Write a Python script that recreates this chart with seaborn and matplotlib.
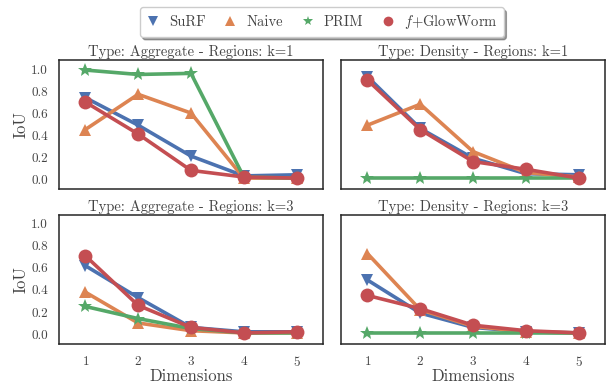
import numpy as np
import pandas as pd
import matplotlib
matplotlib.use("Agg")
import matplotlib.pyplot as plt
from matplotlib.lines import Line2D
import seaborn as sns

dims = [1, 2, 3, 4, 5]
methods = ["SuRF", "Naive", "PRIM", "$f$+GlowWorm"]
panels = ["Type: Aggregate - Regions: k=1", "Type: Density - Regions: k=1",
          "Type: Aggregate - Regions: k=3", "Type: Density - Regions: k=3"]

agg_k1_surf = [0.74, 0.49, 0.21, 0.03, 0.04]
agg_k1_naive = [0.45, 0.77, 0.60, 0.01, 0.01]
agg_k1_prim = [0.99, 0.95, 0.96, 0.02, 0.01]
agg_k1_gw = [0.70, 0.41, 0.08, 0.02, 0.01]

den_k1_surf = [0.93, 0.46, 0.19, 0.05, 0.04]
den_k1_naive = [0.49, 0.68, 0.25, 0.06, 0.02]
den_k1_prim = [0.01, 0.01, 0.01, 0.01, 0.01]
den_k1_gw = [0.90, 0.45, 0.16, 0.09, 0.01]

agg_k3_surf = [0.62, 0.33, 0.06, 0.02, 0.02]
agg_k3_naive = [0.38, 0.10, 0.03, 0.01, 0.01]
agg_k3_prim = [0.25, 0.14, 0.05, 0.01, 0.01]
agg_k3_gw = [0.71, 0.26, 0.06, 0.01, 0.02]

den_k3_surf = [0.49, 0.19, 0.06, 0.02, 0.01]
den_k3_naive = [0.73, 0.22, 0.07, 0.02, 0.01]
den_k3_prim = [0.01, 0.01, 0.01, 0.01, 0.01]
den_k3_gw = [0.35, 0.23, 0.08, 0.03, 0.01]

panel_data = [
    [agg_k1_surf, agg_k1_naive, agg_k1_prim, agg_k1_gw],
    [den_k1_surf, den_k1_naive, den_k1_prim, den_k1_gw],
    [agg_k3_surf, agg_k3_naive, agg_k3_prim, agg_k3_gw],
    [den_k3_surf, den_k3_naive, den_k3_prim, den_k3_gw],
]

sns.set_theme(style="white")
plt.rcParams["font.family"] = ["cmr10", "DejaVu Serif"]
plt.rcParams["mathtext.fontset"] = "cm"
plt.rcParams["axes.formatter.use_mathtext"] = True
plt.rcParams["axes.edgecolor"] = "#262626"
textc = "#444444"
plt.rcParams["text.color"] = textc
plt.rcParams["axes.labelcolor"] = textc
plt.rcParams["xtick.color"] = textc
plt.rcParams["ytick.color"] = textc

palette = sns.color_palette("deep", 4)
colors = dict(zip(methods, palette))
markers = dict(zip(methods, ["v", "^", "*", "o"]))
msizes = dict(zip(methods, [9, 9, 10, 10]))

fig, axes = plt.subplots(2, 2, figsize=(6.07, 3.83), dpi=100, sharex=True, sharey=True)
fig.subplots_adjust(left=0.097, right=0.997, top=0.843, bottom=0.102, wspace=0.068, hspace=0.2)

for i, ax in enumerate(axes.flat):
    rows = []
    for m, vals in zip(methods, panel_data[i]):
        for d, v in zip(dims, vals):
            rows.append({"Dimensions": d, "IoU": v, "Method": m})
    df = pd.DataFrame(rows)
    for m in methods:
        sub = df[df["Method"] == m]
        sns.lineplot(data=sub, x="Dimensions", y="IoU", ax=ax, color=colors[m],
                     marker=markers[m], markersize=msizes[m], markeredgewidth=0,
                     linewidth=2.6, legend=False)
    ax.set_title(panels[i], fontsize=10.5, pad=3)
    ax.set_xlim(0.5, 5.5)
    ax.set_ylim(-0.09, 1.08)
    ax.set_xticks(dims)
    ax.set_yticks([0.0, 0.2, 0.4, 0.6, 0.8, 1.0])
    ax.set_yticklabels(["0.0", "0.2", "0.4", "0.6", "0.8", "1.0"])
    ax.tick_params(labelsize=9.5, pad=2)
    if i % 2 == 0:
        ax.set_ylabel("IoU", fontsize=12, labelpad=2)
    else:
        ax.set_ylabel("")
    if i >= 2:
        ax.set_xlabel("Dimensions", fontsize=12, labelpad=0)
    else:
        ax.set_xlabel("")
    for s in ax.spines.values():
        s.set_linewidth(1.1)

handles = [Line2D([], [], linestyle="none", marker=markers[m], color=colors[m],
                  markersize=7, markeredgewidth=0) for m in methods]
fig.legend(handles, methods, loc="upper center", ncol=4, bbox_to_anchor=(0.53, 1.0),
           fontsize=10.5, frameon=True, shadow=True, fancybox=True,
           handlelength=1.0, handletextpad=0.6, columnspacing=1.2, borderpad=0.4)

fig.savefig("out.png", dpi=100)
